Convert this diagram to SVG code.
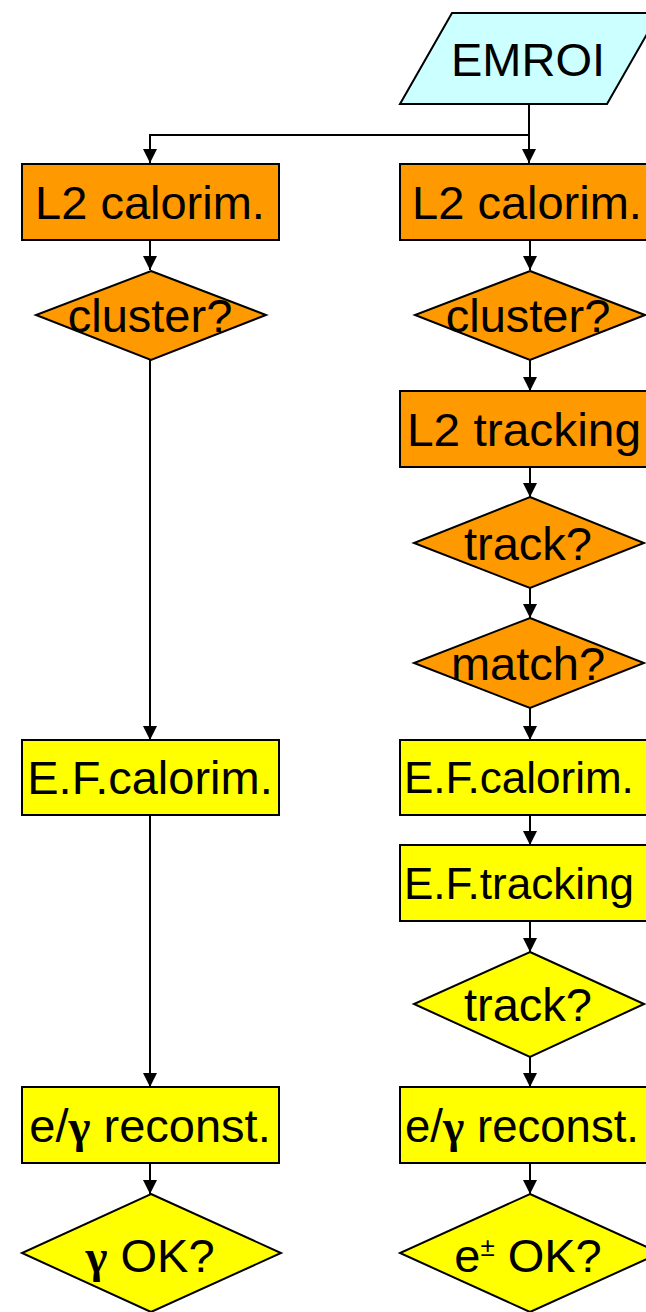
<svg xmlns="http://www.w3.org/2000/svg" width="646" height="1312" viewBox="0 0 646 1312">
<defs>
<style>
.box{stroke:#000;stroke-width:2}
.or{fill:#FF9900}
.ye{fill:#FFFF00}
.cy{fill:#CCFFFF}
.t{font-family:"Liberation Sans",Arial,sans-serif;font-size:47px;fill:#000;text-anchor:middle}
.s{text-anchor:start}
.n{font-size:44px}
.g{font-family:"Liberation Serif","Times New Roman",serif;font-weight:bold}
.c{stroke:#000;stroke-width:2;fill:none}
</style>
<marker id="ah" viewBox="0 0 14 14" refX="14" refY="7" markerWidth="14" markerHeight="14" markerUnits="userSpaceOnUse" orient="auto">
<path d="M0,0 L14,7 L0,14 Z" fill="#000"/>
</marker>
</defs>
<rect width="646" height="1312" fill="#fff"/>
<g id="connectors">
<path class="c" d="M529,104 V163" marker-end="url(#ah)"/>
<path class="c" d="M529,135 H150 V163" marker-end="url(#ah)"/>
<path class="c" d="M150,240 V270" marker-end="url(#ah)"/>
<path class="c" d="M150,360 V740" marker-end="url(#ah)"/>
<path class="c" d="M150,815 V1087" marker-end="url(#ah)"/>
<path class="c" d="M150,1163 V1194" marker-end="url(#ah)"/>
<path class="c" d="M530,240 V270" marker-end="url(#ah)"/>
<path class="c" d="M530,360 V391" marker-end="url(#ah)"/>
<path class="c" d="M530,467 V497" marker-end="url(#ah)"/>
<path class="c" d="M530,588 V618" marker-end="url(#ah)"/>
<path class="c" d="M530,708 V740" marker-end="url(#ah)"/>
<path class="c" d="M530,815 V845" marker-end="url(#ah)"/>
<path class="c" d="M530,921 V952" marker-end="url(#ah)"/>
<path class="c" d="M530,1057 V1087" marker-end="url(#ah)"/>
<path class="c" d="M530,1163 V1194" marker-end="url(#ah)"/>
</g>
<g id="emroi">
<polygon class="box cy" points="452,13 659,13 607,104 400,104"/>
<text class="t" x="528" y="76">EMROI</text>
</g>
<g id="l2calo-left">
<rect class="box or" x="22" y="164" width="257" height="76"/>
<text class="t" x="150" y="219">L2 calorim.</text>
</g>
<g id="cluster-left">
<polygon class="box or" points="151,271 266,315 151,360 36,315"/>
<text class="t" x="150" y="332">cluster?</text>
</g>
<g id="efcalo-left">
<rect class="box ye" x="22" y="740" width="257" height="75"/>
<text class="t" x="150" y="794">E.F.calorim.</text>
</g>
<g id="reco-left">
<rect class="box ye" x="22" y="1087" width="257" height="76"/>
<text class="t" x="150" y="1142">e/<tspan class="g">γ</tspan> reconst.</text>
</g>
<g id="ok-left">
<polygon class="box ye" points="151,1194 281,1253 151,1312 22,1253"/>
<text class="t" x="150" y="1272"><tspan class="g">γ</tspan> OK?</text>
</g>
<g id="l2calo-right">
<rect class="box or" x="400" y="164" width="262" height="76"/>
<text class="t" x="527" y="219">L2 calorim.</text>
</g>
<g id="cluster-right">
<polygon class="box or" points="530,271 645,315 530,360 415,315"/>
<text class="t" x="528" y="332">cluster?</text>
</g>
<g id="l2track-right">
<rect class="box or" x="400" y="391" width="262" height="76"/>
<text class="t s" x="407" y="446" textLength="234" lengthAdjust="spacingAndGlyphs">L2 tracking</text>
</g>
<g id="track-right">
<polygon class="box or" points="530,497 644,543 530,588 414,543"/>
<text class="t" x="528" y="560">track?</text>
</g>
<g id="match-right">
<polygon class="box or" points="530,618 644,663 530,708 414,663"/>
<text class="t" x="528" y="680">match?</text>
</g>
<g id="efcalo-right">
<rect class="box ye" x="400" y="740" width="262" height="75"/>
<text class="t s n" x="404" y="793">E.F.calorim.</text>
</g>
<g id="eftrack-right">
<rect class="box ye" x="400" y="845" width="262" height="76"/>
<text class="t s n" x="404" y="899">E.F.tracking</text>
</g>
<g id="track2-right">
<polygon class="box ye" points="530,952 644,1004 530,1057 414,1004"/>
<text class="t" x="528" y="1021">track?</text>
</g>
<g id="reco-right">
<rect class="box ye" x="400" y="1087" width="262" height="76"/>
<text class="t s" x="405" y="1142" textLength="234" lengthAdjust="spacingAndGlyphs">e/<tspan class="g">γ</tspan> reconst.</text>
</g>
<g id="ok-right">
<polygon class="box ye" points="530,1194 660,1253 530,1312 400,1253"/>
<text class="t" x="528" y="1272">e<tspan font-size="26" dy="-16">±</tspan><tspan dy="16"> OK?</tspan></text>
</g>
</svg>
